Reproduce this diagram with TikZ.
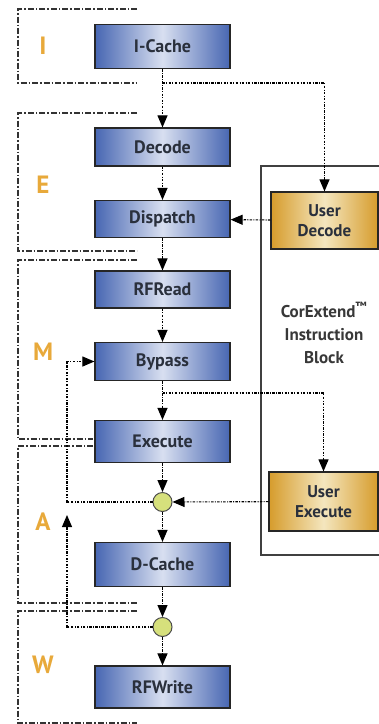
\documentclass[tikz,border=0pt]{standalone}
\usepackage{fontspec}
\setmainfont{PT Sans}
\usetikzlibrary{arrows.meta}

\definecolor{stageorange}{HTML}{E8A93A}
\definecolor{blueedge}{HTML}{4766B2}
\definecolor{bluemid}{HTML}{D8DFF0}
\definecolor{goldedge}{HTML}{D69C2C}
\definecolor{goldmid}{HTML}{F4E6BE}
\definecolor{boxtext}{HTML}{2A303C}
\definecolor{muxfill}{HTML}{D6E07C}

\tikzset{
  pipebox/.style={draw=black!85, line width=1.2pt, minimum width=135pt,
    left color=blueedge, right color=blueedge, middle color=bluemid,
    font=\bfseries\fontsize{18}{20}\selectfont, text=boxtext, inner sep=0pt},
  userbox/.style={draw=black!85, line width=1.2pt, align=center,
    left color=goldedge, right color=goldedge, middle color=goldmid,
    font=\bfseries\fontsize{17}{20}\selectfont, text=boxtext, inner sep=0pt},
  mux/.style={circle, draw=black!70, line width=1pt, fill=muxfill,
    minimum size=19pt, inner sep=0pt},
  flow/.style={draw=black, line width=1.1pt,
    dash pattern=on 2.5pt off 1.3pt on 1pt off 1.3pt},
  flowarrow/.style={flow, -{Triangle[length=12pt,width=10pt]}},
  stageline/.style={draw=black!80, line width=1.3pt,
    dash pattern=on 6pt off 2pt on 1.5pt off 2pt},
  stagelabel/.style={text=stageorange, font=\bfseries\fontsize{25}{25}\selectfont},
}

\begin{document}
\begin{tikzpicture}[x=1pt, y=-1pt]
\useasboundingbox[fill=white] (0,0) rectangle (379,724);

% pipeline stage brackets
\draw[stageline] (137,9) -- (18,9) -- (18,83) -- (137,83);
\draw[stageline] (137,113) -- (18,113) -- (18,251) -- (137,251);
\draw[stageline] (137,260) -- (18,260) -- (18,439) -- (93,439);
\draw[stageline] (93,446) -- (18,446) -- (18,603) -- (137,603);
\draw[stageline] (137,611) -- (18,611) -- (18,723) -- (137,723);

% stage letters
\node[stagelabel] (stI) at (43,46) {I};
\node[stagelabel] (stE) at (43,185) {E};
\node[stagelabel] (stM) at (43,352) {M};
\node[stagelabel] (stA) at (43,522) {A};
\node[stagelabel] (stW) at (43,665) {W};

% CorExtend block frame
\draw[draw=black!75, line width=1.1pt] (379,166) -- (261,166) -- (261,555) -- (379,555);
\node[align=center, text=black!78, font=\bfseries\fontsize{17}{23}\selectfont]
  (cxt) at (324,333) {CorExtend\textsuperscript{\texttrademark}\\Instruction\\Block};

% pipeline boxes
\node[pipebox, minimum height=44pt] (icache)   at (162.5,46.5)  {I-Cache};
\node[pipebox, minimum height=38pt] (decode)   at (162.5,147)   {Decode};
\node[pipebox, minimum height=37pt] (dispatch) at (162.5,219)   {Dispatch};
\node[pipebox, minimum height=37pt] (rfread)   at (162.5,289.5) {RFRead};
\node[pipebox, minimum height=38pt] (bypass)   at (162.5,361.5) {Bypass};
\node[pipebox, minimum height=42pt] (execute)  at (162.5,441.5) {Execute};
\node[pipebox, minimum height=44pt] (dcache)   at (162.5,564.5) {D-Cache};
\node[pipebox, minimum height=42pt] (rfwrite)  at (162.5,687)   {RFWrite};

% user-defined instruction boxes
\node[userbox, minimum width=107pt, minimum height=57pt] (udecode) at (324.5,220.5) {User\\Decode};
\node[userbox, minimum width=109pt, minimum height=59pt] (uexec)   at (323.5,501.5) {User\\Execute};

% result multiplexers
\node[mux] (mux1) at (162.5,502) {};
\node[mux] (mux2) at (162.5,627) {};

% branch and feedback points
\coordinate (split1) at (162.5,83);
\coordinate (split2) at (162.5,393);
\coordinate (fb1) at (67,502);
\coordinate (fb2) at (67,627);
\coordinate (fb2end) at (67,515);

% main flow
\draw[flowarrow] (icache) -- (decode);
\draw[flowarrow] (split1) -| (udecode);
\draw[flowarrow] (decode) -- (dispatch);
\draw[flowarrow] (udecode) -- (dispatch);
\draw[flowarrow] (dispatch) -- (rfread);
\draw[flowarrow] (rfread) -- (bypass);
\draw[flowarrow] (bypass) -- (execute);
\draw[flowarrow] (split2) -| (uexec);
\draw[flowarrow] (execute) -- (mux1);
\draw[flowarrow] (uexec) -- (mux1);
\draw[flowarrow] (mux1) -- (dcache);
\draw[flowarrow] (dcache) -- (mux2);
\draw[flowarrow] (mux2) -- (rfwrite);

% bypass feedback paths
\draw[flowarrow] (mux1) -- (fb1) |- (bypass);
\draw[flowarrow] (mux2) -- (fb2) -- (fb2end);
\end{tikzpicture}
\end{document}
